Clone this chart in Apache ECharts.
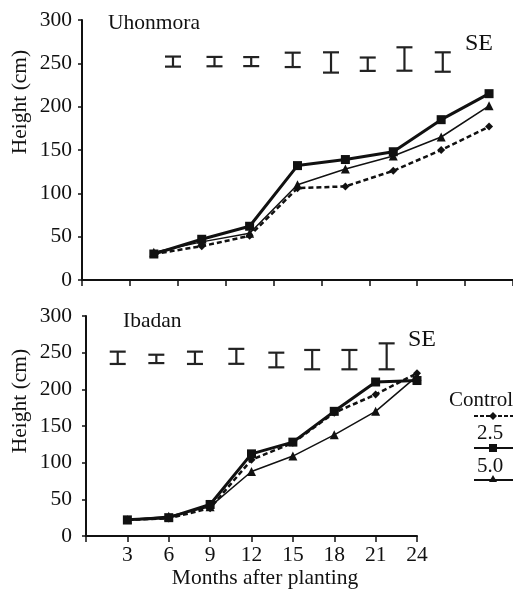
<!DOCTYPE html>
<html>
<head>
<meta charset="utf-8">
<script src="https://cdn.jsdelivr.net/npm/echarts@6/dist/echarts.min.js"></script>
<style>html,body{margin:0;padding:0;background:#fff}#chart{width:513px;height:589px}</style>
</head>
<body>
<div id="chart"></div>
<script>
var months = [3, 6, 9, 12, 15, 18, 21, 24];

var uhoControl = [30, 39, 51, 106, 108, 126, 150, 177];
var uho25 = [30, 47, 62, 132, 139, 148, 185, 215];
var uho50 = [32, 44, 54, 110, 128, 143, 165, 201];
var ibaControl = [22, 24, 38, 104, 127, 168, 193, 222];
var iba25 = [22, 25, 43, 112, 128, 170, 210, 212];
var iba50 = [22, 27, 40, 88, 109, 138, 170, 218];

// SE bars: x position (months), centre, half range
var uhoSeX = [4.2, 6.8, 9.1, 11.7, 14.1, 16.4, 18.7, 21.1];
var uhoSeMid = [252, 252, 252, 254, 251, 249, 255, 251.5];
var uhoSeHalf = [5.8, 5.4, 5.2, 8.3, 11.7, 7.7, 13.5, 11.2];
var ibaSeX = [2.3, 5.1, 7.9, 10.9, 13.8, 16.4, 19.1, 21.8];
var ibaSeMid = [243, 241.5, 243, 245, 240, 240.5, 240.5, 245];
var ibaSeHalf = [8.4, 5.7, 8.4, 10.2, 10, 13.2, 13.2, 17.7];

var ink = '#111';
var font = 'Liberation Serif';
var txt = '21.5px "Liberation Serif"';

function pairs(xs, ys) {
	return xs.map(function (x, i) { return [x, ys[i]]; });
}
function seData(xs, mid, half) {
	return xs.map(function (x, i) { return [x, mid[i] - half[i], mid[i] + half[i]]; });
}
function seItem(params, api) {
	var x = api.value(0);
	var lo = api.coord([x, api.value(1)]);
	var hi = api.coord([x, api.value(2)]);
	var w = 8;
	var st = {stroke: '#222', lineWidth: 2.2};
	return {type: 'group', children: [
		{type: 'line', shape: {x1: hi[0], y1: hi[1], x2: lo[0], y2: lo[1]}, style: st},
		{type: 'line', shape: {x1: hi[0] - w, y1: hi[1], x2: hi[0] + w, y2: hi[1]}, style: st},
		{type: 'line', shape: {x1: lo[0] - w, y1: lo[1], x2: lo[0] + w, y2: lo[1]}, style: st}
	]};
}
function lineSeries(name, data, idx, kind) {
	var s = {
		name: name, type: 'line', xAxisIndex: idx, yAxisIndex: idx,
		data: data, symbolSize: 8, z: 3,
		itemStyle: {color: ink}, lineStyle: {color: ink, width: 2}
	};
	if (kind === 'control') { s.symbol = 'diamond'; s.lineStyle.type = [5, 3]; s.lineStyle.width = 2.5; }
	if (kind === 'sq') { s.symbol = 'rect'; s.symbolSize = 9; s.lineStyle.width = 3; }
	if (kind === 'tri') { s.symbol = 'triangle'; s.symbolSize = 9; s.lineStyle.width = 1.5; }
	return s;
}
function yAx(idx, margin) {
	return {
		gridIndex: idx, type: 'value', min: 0, max: 300, interval: 50,
		axisLine: {show: true, onZero: false, lineStyle: {color: ink, width: 2}},
		axisTick: {show: true, length: 4, lineStyle: {color: ink, width: 1.5}},
		axisLabel: {color: ink, fontFamily: font, fontSize: 21.5, margin: margin},
		splitLine: {show: false}
	};
}

var chart = echarts.init(document.getElementById('chart'));
var option = {
	animation: false,
	backgroundColor: '#fff',
	grid: [
		{left: 82, right: -3, top: 20, bottom: 309},
		{left: 86, right: 96, top: 316, bottom: 53}
	],
	xAxis: [
		{
			gridIndex: 0, type: 'value', min: -1.5, max: 25.5, interval: 3,
			axisLine: {show: true, onZero: false, lineStyle: {color: ink, width: 2}},
			axisTick: {show: true, length: 6, lineStyle: {color: ink, width: 1.5}},
			axisLabel: {show: false}, splitLine: {show: false}
		},
		{
			gridIndex: 1, type: 'value', min: 0, max: 24, interval: 3,
			axisLine: {show: true, onZero: false, lineStyle: {color: ink, width: 2}},
			axisTick: {show: true, length: 6, lineStyle: {color: ink, width: 1.5}},
			axisLabel: {color: ink, fontFamily: font, fontSize: 21.5, margin: 8,
				formatter: function (v) { return v === 0 ? '' : v; }},
			splitLine: {show: false}
		}
	],
	yAxis: [yAx(0, 10), yAx(1, 14)],
	series: [
		lineSeries('Control', pairs(months, uhoControl), 0, 'control'),
		lineSeries('5.0', pairs(months, uho50), 0, 'tri'),
		lineSeries('2.5', pairs(months, uho25), 0, 'sq'),
		lineSeries('Control', pairs(months, ibaControl), 1, 'control'),
		lineSeries('5.0', pairs(months, iba50), 1, 'tri'),
		lineSeries('2.5', pairs(months, iba25), 1, 'sq'),
		{type: 'custom', xAxisIndex: 0, yAxisIndex: 0, renderItem: seItem,
			data: seData(uhoSeX, uhoSeMid, uhoSeHalf)},
		{type: 'custom', xAxisIndex: 1, yAxisIndex: 1, renderItem: seItem,
			data: seData(ibaSeX, ibaSeMid, ibaSeHalf)}
	],
	graphic: [
		{type: 'text', left: 108, top: 12, style: {text: 'Uhonmora', font: txt, fill: ink}},
		{type: 'text', left: 123, top: 310, style: {text: 'Ibadan', font: txt, fill: ink}},
		{type: 'text', left: 465, top: 32, style: {text: 'SE', font: '24px "Liberation Serif"', fill: ink}},
		{type: 'text', left: 408, top: 328, style: {text: 'SE', font: '24px "Liberation Serif"', fill: ink}},
		{type: 'text', x: 20, y: 102, rotation: Math.PI / 2,
			style: {text: 'Height (cm)', font: txt, fill: ink, align: 'center', verticalAlign: 'middle'}},
		{type: 'text', x: 20, y: 401, rotation: Math.PI / 2,
			style: {text: 'Height (cm)', font: txt, fill: ink, align: 'center', verticalAlign: 'middle'}},
		{type: 'text', x: 265, y: 578,
			style: {text: 'Months after planting', font: txt, fill: ink, align: 'center', verticalAlign: 'middle'}},
		// legend
		{type: 'text', x: 449, y: 400, style: {text: 'Control', font: '21px "Liberation Serif"', fill: ink, verticalAlign: 'middle'}},
		{type: 'line', shape: {x1: 474, y1: 416, x2: 513, y2: 416}, style: {stroke: ink, lineWidth: 2, lineDash: [4, 2]}},
		{type: 'polygon', shape: {points: [[493, 412], [497, 416], [493, 420], [489, 416]]}, style: {fill: ink}},
		{type: 'text', x: 490, y: 433, style: {text: '2.5', font: '21px "Liberation Serif"', fill: ink, align: 'center', verticalAlign: 'middle'}},
		{type: 'line', shape: {x1: 474, y1: 448, x2: 513, y2: 448}, style: {stroke: ink, lineWidth: 2}},
		{type: 'rect', shape: {x: 489, y: 444, width: 8, height: 8}, style: {fill: ink}},
		{type: 'text', x: 490, y: 466, style: {text: '5.0', font: '21px "Liberation Serif"', fill: ink, align: 'center', verticalAlign: 'middle'}},
		{type: 'line', shape: {x1: 474, y1: 480, x2: 513, y2: 480}, style: {stroke: ink, lineWidth: 2}},
		{type: 'polygon', shape: {points: [[493, 475], [497, 482], [489, 482]]}, style: {fill: ink}}
	]
};
chart.setOption(option);
</script>
</body>
</html>
